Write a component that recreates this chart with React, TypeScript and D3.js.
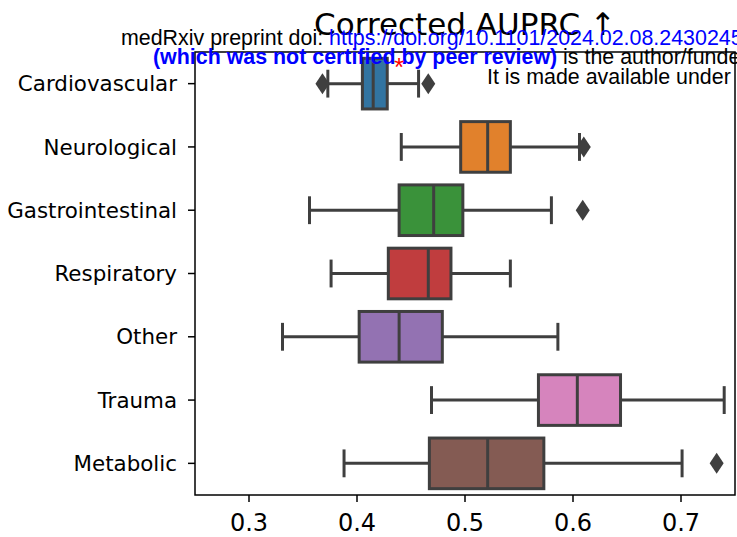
import React from "react";
import * as d3 from "d3";

const categories = ["Cardiovascular", "Neurological", "Gastrointestinal", "Respiratory", "Other", "Trauma", "Metabolic"];
const whiskerLow = [0.373, 0.441, 0.356, 0.376, 0.331, 0.469, 0.388];
const q1 = [0.405, 0.496, 0.439, 0.429, 0.402, 0.568, 0.467];
const median = [0.415, 0.521, 0.471, 0.466, 0.439, 0.604, 0.521];
const q3 = [0.428, 0.542, 0.498, 0.487, 0.479, 0.644, 0.573];
const whiskerHigh = [0.457, 0.606, 0.580, 0.542, 0.586, 0.740, 0.701];
const outliers = [[0.368, 0.466], [0.610], [0.609], [], [], [], [0.733]];
const colors = ["#3274a1", "#e1812c", "#3a923a", "#c03d3e", "#9372b2", "#d684bd", "#845b53"];
const xTicks = [0.3, 0.4, 0.5, 0.6, 0.7];

const W = 737, H = 537;
const left = 195, right = 735, top = 52, bottom = 495;
const LINE = "#3f3f3f";

export default function App() {
  const x = d3.scaleLinear().domain([0.25, 0.75]).range([left, right]);
  const y = d3.scaleBand().domain(categories).range([top, bottom]);
  const bw = y.bandwidth() * 0.8;
  const capW = bw * 0.55;
  const diamond = (cx: number, cy: number) => {
    const hw = 7, hh = 10.5;
    return `M${cx},${cy - hh}L${cx + hw},${cy}L${cx},${cy + hh}L${cx - hw},${cy}Z`;
  };
  return (
    <svg width={W} height={H} style={{ position: "absolute", left: 0, top: 0, background: "#fff" }}
      fontFamily="DejaVu Sans">
      <rect x={0} y={0} width={W} height={H} fill="#fff" />
      {categories.map((c, i) => {
        const cy = (y(c) as number) + y.bandwidth() / 2;
        return (
          <g key={c}>
            <line x1={x(whiskerLow[i])} x2={x(q1[i])} y1={cy} y2={cy} stroke={LINE} strokeWidth={3} />
            <line x1={x(q3[i])} x2={x(whiskerHigh[i])} y1={cy} y2={cy} stroke={LINE} strokeWidth={3} />
            <line x1={x(whiskerLow[i])} x2={x(whiskerLow[i])} y1={cy - capW / 2} y2={cy + capW / 2} stroke={LINE} strokeWidth={3} />
            <line x1={x(whiskerHigh[i])} x2={x(whiskerHigh[i])} y1={cy - capW / 2} y2={cy + capW / 2} stroke={LINE} strokeWidth={3} />
            <rect x={x(q1[i])} y={cy - bw / 2} width={x(q3[i]) - x(q1[i])} height={bw}
              fill={colors[i]} stroke={LINE} strokeWidth={3} />
            <line x1={x(median[i])} x2={x(median[i])} y1={cy - bw / 2} y2={cy + bw / 2} stroke={LINE} strokeWidth={3} />
            {outliers[i].map((v, k) => (
              <path key={k} d={diamond(x(v), cy)} fill={LINE} />
            ))}
          </g>
        );
      })}
      <rect x={left} y={top} width={right - left} height={bottom - top} fill="none" stroke="#000" strokeWidth={1.5} />
      {categories.map((c) => {
        const cy = (y(c) as number) + y.bandwidth() / 2;
        return (
          <g key={c}>
            <line x1={left - 7} x2={left} y1={cy} y2={cy} stroke="#000" strokeWidth={1.5} />
            <text x={left - 18} y={cy} dy="0.36em" textAnchor="end" fontSize={21.4} fill="#000">{c}</text>
          </g>
        );
      })}
      {xTicks.map((t) => (
        <g key={t}>
          <line x1={x(t)} x2={x(t)} y1={bottom} y2={bottom + 7} stroke="#000" strokeWidth={1.5} />
          <text x={x(t)} y={bottom + 36} textAnchor="middle" fontSize={24} fill="#000">{t.toFixed(1)}</text>
        </g>
      ))}
      <text x={(left + right) / 2} y={35} textAnchor="middle" fontSize={31} fill="#000">Corrected AUPRC ↑</text>
      <g fontFamily="Liberation Sans, Arial, sans-serif" fontSize={21.4}>
        <text x={121} y={45} fill="#000">medRxiv preprint doi: <tspan fill="#0000ff">https://doi.org/10.1101/2024.02.08.24302458</tspan>; this version posted February 9, 2024. The copyright holder for this preprint</text>
        <text x={153} y={64} fill="#000"><tspan fill="#0000ff" fontWeight="bold">(which was not certified by peer review)</tspan> is the author/funder, who has granted medRxiv a license to display the preprint in perpetuity.</text>
        <text x={487} y={84} fill="#000">It is made available under a CC-BY 4.0 International license .</text>
        <text x={394} y={76} fill="#ff0000" fontSize={26}>*</text>
      </g>
    </svg>
  );
}
